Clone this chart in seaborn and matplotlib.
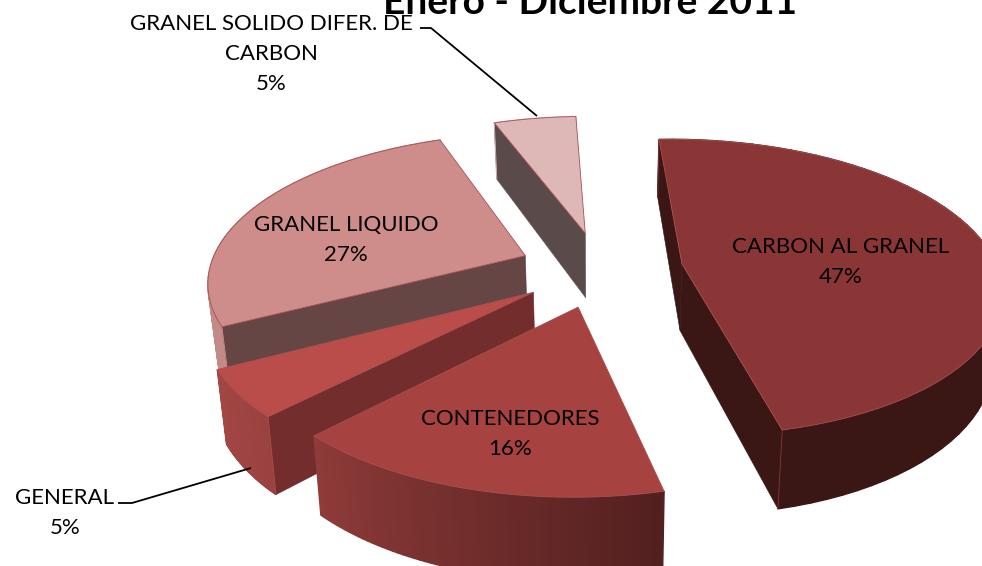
import numpy as np
import matplotlib
matplotlib.use("Agg")
import matplotlib.pyplot as plt
import seaborn as sns

categories = ["CARBON AL GRANEL", "CONTENEDORES", "GENERAL", "GRANEL LIQUIDO", "GRANEL SOLIDO DIFER. DE\nCARBON"]
values = [47, 16, 5, 27, 5]
title = "Enero - Diciembre 2011"

top_colors = ["#8B3636", "#A64240", "#BA4D4A", "#CE8D8B", "#DEB7B7"]
side_colors = ["#3A1615", "#5A2020", "#722D2C", "#654644", "#5A4A4A"]
wall_left = ["#3A1615", "#8E3B39", "#A34644", "#C48A88", "#DEB7B7"]
wall_right = ["#3A1615", "#52201F", "#9A4240", "#C48A88", "#DEB7B7"]

label_xy = [(841, 262), (510, 434), (65, 513), (346, 240), (271, 54)]
leaders = [None, None, [(118, 503), (132, 503), (251, 468)], None, [(420, 28), (431, 28), (537, 116)]]

CX, CY, RX, RY, K, DEPTH, EXPL, START = 601, 269, 316, 146, 0.16, 67, 0.26, -2.5

sns.set_theme(style="white")
plt.rcParams["font.family"] = ["Lato", "DejaVu Sans"]

fig = plt.figure(figsize=(9.82, 5.66), dpi=100)
ax = fig.add_axes([0, 0, 1, 1])
ax.set_xlim(0, 982)
ax.set_ylim(566, 0)
ax.axis("off")


def project(theta_deg, r, ex, ey, z):
    t = np.radians(theta_deg)
    x = r * np.sin(t) + ex
    y = r * np.cos(t) + ey
    f = 1.0 / (1.0 + K * y)
    return np.column_stack([CX + x * RX * f * (1 - 0.024 * z), CY - y * RY * f + DEPTH * z * f])


def poly(pts, color, z, lw=0.4, edge=None):
    ax.fill(pts[:, 0], pts[:, 1], facecolor=color, edgecolor=edge or color, linewidth=lw, zorder=z)


total = sum(values)
edges = START + np.concatenate([[0], np.cumsum(values)]) * 360.0 / total
order = [4, 3, 0, 2, 1]
for n, i in enumerate(order):
    a0, a1 = edges[i], edges[i + 1]
    mid = np.radians((a0 + a1) / 2)
    ex, ey = EXPL * np.sin(mid), EXPL * np.cos(mid)
    th = np.linspace(a0, a1, 61)
    base = n * 10
    strips = sns.blend_palette([wall_right[i], wall_left[i]], n_colors=len(th) - 1)
    for j in range(len(th) - 1):
        seg = th[j:j + 2]
        q = np.vstack([project(seg, 1, ex, ey, 0), project(seg[::-1], 1, ex, ey, 1)])
        poly(q, strips[j], base, lw=1.0)
    # a radial wall is drawn only when it faces the viewer
    for a, visible in ((a0, np.sin(np.radians(a0)) < 0), (a1, np.sin(np.radians(a1)) > 0)):
        if not visible:
            continue
        p = np.array([a])
        q = np.vstack([project(p, 0, ex, ey, 0), project(p, 1, ex, ey, 0),
                       project(p, 1, ex, ey, 1), project(p, 0, ex, ey, 1)])
        poly(q, side_colors[i], base + 1)
        ax.plot(q[1:3, 0], q[1:3, 1], color=top_colors[i], lw=0.6, zorder=base + 1.5)
    top = np.vstack([project(np.array([a0]), 0, ex, ey, 0), project(th, 1, ex, ey, 0)])
    poly(top, top_colors[i], base + 2, lw=0.6, edge="#A85050")

for name, val, (lx, ly), lead in zip(categories, values, label_xy, leaders):
    ax.text(lx, ly, f"{name}\n{val}%", ha="center", va="center", fontsize=16,
            color="black", linespacing=1.6, zorder=100)
    if lead:
        xs, ys = zip(*lead)
        ax.plot(xs, ys, color="black", lw=1.3, zorder=90, solid_capstyle="butt")

ax.text(590, 13.5, title, ha="center", va="baseline", fontsize=28, fontweight="bold",
        color="black", zorder=101, clip_on=False)

fig.savefig("out.png", dpi=100, facecolor="white")
